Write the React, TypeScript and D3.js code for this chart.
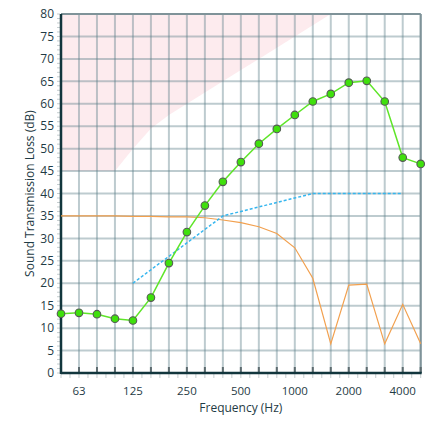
import React from 'react';
import * as d3 from 'd3';

// one-third octave bands shown on the x axis
const bands = ['50', '63', '80', '100', '125', '160', '200', '250', '315', '400', '500',
    '630', '800', '1000', '1250', '1600', '2000', '2500', '3150', '4000', '5000'];
const tickLabels = ['63', '125', '250', '500', '1000', '2000', '4000'];

// measured transmission loss (green)
const measured = [13.2, 13.4, 13.1, 12.1, 11.7, 16.8, 24.5, 31.4, 37.3, 42.6, 47.0,
    51.1, 54.4, 57.5, 60.5, 62.2, 64.7, 65.1, 60.5, 48.0, 46.6];

// reference contour (blue dashed), 125 - 4000 Hz
const contourBands = ['125', '160', '200', '250', '315', '400', '500', '630', '800',
    '1000', '1250', '1600', '2000', '2500', '3150', '4000'];
const contour = [20, 23, 26, 29, 32, 35, 36, 37, 38, 39, 40, 40, 40, 40, 40, 40];

// orange curve
const orange = [35, 35, 35, 35, 34.9, 34.9, 34.8, 34.8, 34.6, 34.1, 33.5,
    32.6, 31.1, 27.9, 21.1, 6.5, 19.6, 19.8, 6.5, 15.3, 6.5];

// lower edge of the shaded area (pink)
const shadeBands = ['50', '63', '80', '100', '125', '160', '200', '250', '315', '400',
    '500', '630', '800', '1000', '1250', '1600'];
const shadeLow = [45, 45, 45, 45, 50, 54.5, 57.5, 60, 62.5, 65, 67.5, 70, 72.5, 75, 77.5, 80];

const yTicks = d3.range(0, 81, 5);
const yMinor = d3.range(0, 81, 1);

const W = 435, H = 421;
const left = 61, right = 420.7, top = 14, bottom = 373;
const font = '"Open Sans", "Noto Sans", sans-serif';
const textColor = '#1f3b45';

export default function App() {
    const x = d3.scaleLinear().domain([0, bands.length - 1]).range([left, right]);
    const y = d3.scaleLinear().domain([0, 80]).range([bottom, top]);
    const bx = (b: string) => x(bands.indexOf(b));

    const line = d3.line<[number, number]>().x(d => d[0]).y(d => d[1]);

    const greenPts: [number, number][] = measured.map((v, i) => [x(i), y(v)]);
    const bluePts: [number, number][] = contour.map((v, i) => [bx(contourBands[i]), y(v)]);
    const orangePts: [number, number][] = orange.map((v, i) => [x(i), y(v)]);

    const shade = d3.area<number>()
        .x((d, i) => bx(shadeBands[i]))
        .y0(() => y(80))
        .y1(d => y(d));

    const halfTicks = d3.range(0, bands.length - 0.5, 0.5);

    return (
        <div style={{position: 'absolute', left: 0, top: 0}}>
            <svg width={W} height={H} style={{display: 'block', background: '#fff'}}>
                <path d={shade(shadeLow) || ''} fill="#fdebee" />

                {/* grid */}
                <g stroke="#5a7c86" strokeOpacity={0.4} strokeWidth={2}>
                    {bands.map((b, i) => (
                        <line key={'v' + b} x1={x(i)} x2={x(i)} y1={top} y2={bottom} />
                    ))}
                    {yTicks.map(t => (
                        <line key={'h' + t} x1={left} x2={right} y1={y(t)} y2={y(t)} />
                    ))}
                </g>

                {/* top and right frame */}
                <line x1={left} x2={right} y1={top} y2={top} stroke="#7f9399" strokeWidth={2} />
                <line x1={right} x2={right} y1={top} y2={bottom} stroke="#7f9399" strokeWidth={2} />

                {/* minor y ticks */}
                <g stroke="#c5cdcf" strokeWidth={1}>
                    {yMinor.map(t => (
                        <line key={'ym' + t} x1={left - 4} x2={left - 1} y1={y(t)} y2={y(t)} />
                    ))}
                </g>
                {/* x ticks */}
                <g stroke="#c5cdcf" strokeWidth={1}>
                    {halfTicks.map(t => (
                        <line key={'xm' + t} x1={x(t)} x2={x(t)} y1={bottom + 1} y2={bottom + 5} />
                    ))}
                </g>
                <g stroke="#5d6b6f" strokeWidth={2}>
                    {bands.map((b, i) => (
                        <line key={'xt' + b} x1={x(i)} x2={x(i)} y1={bottom - 6} y2={bottom} />
                    ))}
                </g>

                {/* axes */}
                <line x1={left} x2={left} y1={top} y2={bottom + 1} stroke="#12363d" strokeWidth={2.5} />
                <line x1={left} x2={right + 1} y1={bottom} y2={bottom} stroke="#12363d" strokeWidth={2.5} />

                {/* series */}
                <path d={line(orangePts) || ''} fill="none" stroke="#f2a04e" strokeWidth={1.2} />
                <path d={line(bluePts) || ''} fill="none" stroke="#35b6ef" strokeWidth={1.5}
                    strokeDasharray="3,2" />
                <path d={line(greenPts) || ''} fill="none" stroke="#5ee528" strokeWidth={1.5} />
                {greenPts.map((p, i) => (
                    <circle key={'m' + i} cx={p[0]} cy={p[1]} r={3.8} fill="#3fe00c"
                        stroke="#555a55" strokeWidth={1.1} />
                ))}

                {/* tick labels */}
                <g fontFamily={font} fontSize={12} fill={textColor}>
                    {yTicks.map(t => (
                        <text key={'yl' + t} x={left - 7} y={y(t)} dy="0.35em" textAnchor="end">{t}</text>
                    ))}
                </g>
                <g fontFamily={font} fontSize={11.5} fill={textColor}>
                    {tickLabels.map(l => (
                        <text key={'xl' + l} x={bx(l)} y={395} textAnchor="middle">{l}</text>
                    ))}
                </g>

                {/* axis titles */}
                <text x={(left + right) / 2} y={412} textAnchor="middle" fontFamily={font}
                    fontSize={12} fill={textColor}>Frequency (Hz)</text>
                <text transform={`translate(34,${(top + bottom) / 2}) rotate(-90)`} textAnchor="middle"
                    fontFamily={font} fontSize={12} fill={textColor}>Sound Transmission Loss (dB)</text>
            </svg>
        </div>
    );
}
